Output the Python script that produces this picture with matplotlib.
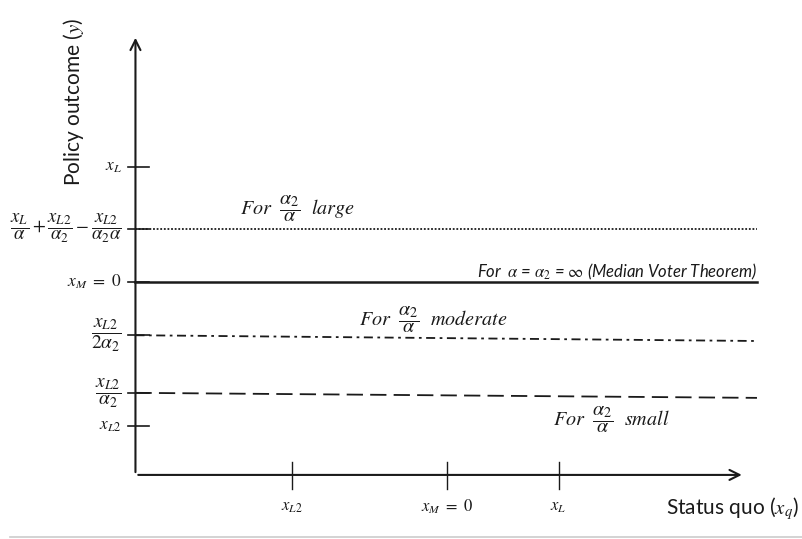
import matplotlib
matplotlib.use('Agg')
import matplotlib.pyplot as plt

plt.rcParams['mathtext.fontset'] = 'stix'
plt.rcParams['font.family'] = ['Lato', 'DejaVu Sans']

# Status quo axis ticks (x_M = 0, x_L2 = -1)
xqTicks = [-1.0, 0.0, 0.72]
xqLabels = [r'$x_{L2}$', r'$x_M\ =\ 0$', r'$x_L$']

# Policy outcome axis ticks
yTicks = [0.80, 0.37, 0.0, -0.37, -0.77, -1.0]
yLabels = [r'$x_L$',
           r'$\dfrac{x_L}{\alpha}+\dfrac{x_{L2}}{\alpha_2}-\dfrac{x_{L2}}{\alpha_2\alpha}$',
           r'$x_M\ =\ 0$',
           r'$\dfrac{x_{L2}}{2\alpha_2}$',
           r'$\dfrac{x_{L2}}{\alpha_2}$',
           r'$x_{L2}$']
yLabelSizes = [12.5, 13.5, 12.5, 14, 14, 12.5]

# Outcome lines (start / end)
lineX = [-2.01, 2.0]
largeY = [0.37, 0.37]
mvtY = [0.0, 0.0]
moderateY = [-0.37, -0.41]
smallY = [-0.77, -0.805]

x0, y0 = -2.01, -1.34   # origin of the drawn axes
xEnd, yEnd = 1.92, 1.715
ink = '#1a1a1a'

fig = plt.figure(figsize=(8.03, 5.39), dpi=100)
ax = fig.add_axes([0, 0, 1, 1])
ax.set_xlim(-2.884, 2.297)
ax.set_ylim(-1.785, 1.958)
ax.axis('off')

# axes with arrows
ax.annotate('', xy=(x0, yEnd), xytext=(x0, y0),
            arrowprops=dict(arrowstyle='->', color=ink, lw=1.5, mutation_scale=18))
ax.annotate('', xy=(xEnd, y0), xytext=(x0, y0),
            arrowprops=dict(arrowstyle='->', color=ink, lw=1.5, mutation_scale=18))

# ticks
for yt, lab, fs in zip(yTicks, yLabels, yLabelSizes):
    ax.plot([-2.06, -1.92], [yt, yt], color=ink, lw=1.2)
    ax.text(-2.10, yt, lab, ha='right', va='center', fontsize=fs, color=ink)
for xt, lab in zip(xqTicks, xqLabels):
    ax.plot([xt, xt], [-1.25, -1.44], color=ink, lw=1.0)
    ax.text(xt, -1.56, lab, ha='center', va='center', fontsize=12, color=ink)

# outcome lines
ax.plot(lineX, largeY, color=ink, lw=1.3, linestyle=(0, (1, 1)))
ax.plot(lineX, mvtY, color=ink, lw=1.8)
ax.plot(lineX, moderateY, color=ink, lw=1.3, linestyle=(0, (5, 2.5, 1.5, 2.5)))
ax.plot(lineX, smallY, color=ink, lw=1.3, linestyle=(0, (9, 4)))

# annotations
ax.text(-1.335, 0.51, r'$For\ \ \dfrac{\alpha_2}{\alpha}\ \ large$', ha='left', va='center',
        fontsize=14.5, color=ink)
ax.text(2.0, 0.07, r'For  $\alpha$ = $\alpha_2$ = $\infty$ (Median Voter Theorem)',
        ha='right', va='center', fontsize=12, style='italic', color=ink)
ax.text(-0.568, -0.26, r'$For\ \ \dfrac{\alpha_2}{\alpha}\ \ moderate$', ha='left', va='center',
        fontsize=14.5, color=ink)
ax.text(0.684, -0.958, r'$For\ \ \dfrac{\alpha_2}{\alpha}\ \ small$', ha='left', va='center',
        fontsize=14.5, color=ink)

# axis titles
ax.text(-2.41, 1.25, 'Policy outcome ($y$)', rotation=90, ha='center', va='center',
        fontsize=15, color=ink)
ax.text(2.27, -1.576, r'Status quo ($x_q$)', ha='right', va='center', fontsize=15, color=ink)

# thin rule at the bottom
ax.plot([-2.82, 2.297], [-1.774, -1.774], color='#cccccc', lw=1.2)

fig.savefig('out.png', dpi=100)
